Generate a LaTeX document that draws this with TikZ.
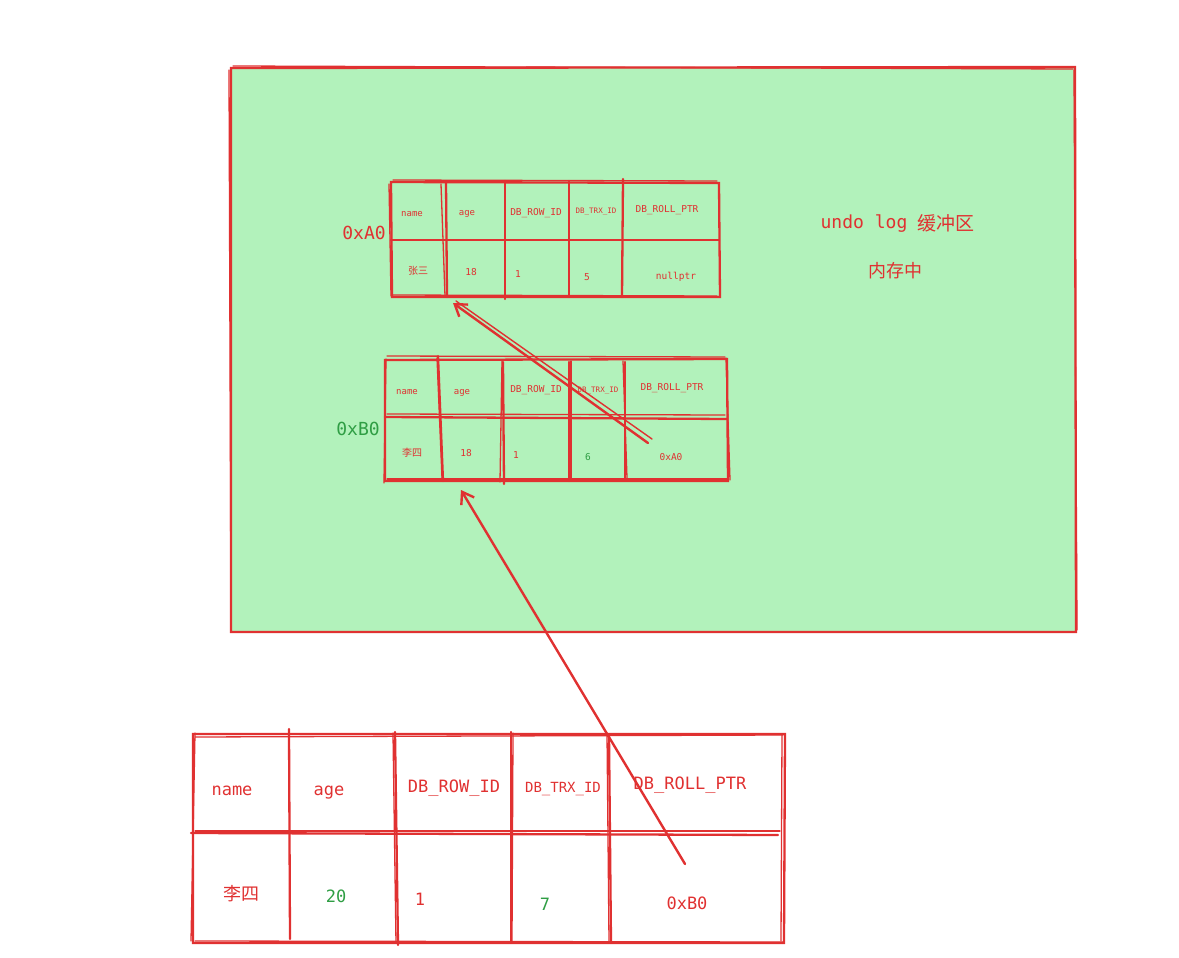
\documentclass[tikz,border=0pt]{standalone}
\usepackage{fontspec}
\setmonofont{DejaVu Sans Mono}
\newfontfamily\cjk{Noto Sans CJK SC}
\usetikzlibrary{arrows.meta}
\definecolor{xred}{HTML}{E03131}
\definecolor{xgreen}{HTML}{2F9E44}
\definecolor{xfill}{HTML}{B2F2BB}
\tikzset{
  x=1pt, y=-1pt,
  sk/.style={draw=xred, line width=2.3pt, line cap=round},
  skthin/.style={draw=xred, line width=1.3pt, line cap=round},
  t/.style={text=xred, font=\ttfamily\fontsize{#1}{#1}\selectfont, inner sep=0pt},
  t/.default=9,
  tg/.style={t=#1, text=xgreen},
  tg/.default=9,
  c/.style={text=xred, font=\cjk\fontsize{#1}{#1}\selectfont, inner sep=0pt},
  c/.default=10,
  arr/.style={draw=xred, line width=2.4pt, line cap=round, -{Straight Barb[length=11pt,width=15pt,line width=2.4pt]}},
}
\begin{document}
\begin{tikzpicture}
\useasboundingbox (0,0) rectangle (1179,958);
% memory area
\path[fill=xfill] (231,67) rectangle (1076,632);
\draw[sk] (231,68) -- (1075,67) -- (1076,632) -- (231,632) -- cycle;
\draw[skthin] (233,66) -- (1073,69);
\draw[skthin] (1074,70) -- (1077,630);
\draw[skthin] (229,70) -- (231,630);
\node[t=18] (ulog) at (864,224) {undo log};
\node[c=19, anchor=west] (ubuf) at (917,223) {缓冲区};
\node[c=18] (mem) at (895,271) {内存中};

% table 0xA0
\draw[sk] (391,182) -- (719,183) -- (720,297) -- (392,297) -- cycle;
\draw[sk] (391,240) -- (719,240);
\draw[sk] (446,182) -- (447,297);
\draw[sk] (505,181) -- (505,299);
\draw[sk] (569,181) -- (569,297);
\draw[sk] (623,179) -- (622,297);
\draw[skthin] (389,184) -- (391,296);
\draw[skthin] (441,184) -- (445,296);
\draw[skthin] (393,180) -- (717,181);
\draw[skthin] (393,295) -- (717,296);
\node[t=18] (lA) at (364,233) {0xA0};
\node[t=9]  (a1) at (412,214) {name};
\node[t=9]  (a2) at (467,214) {age};
\node[t=9.5]  (a3) at (536,213) {DB\_ROW\_ID};
\node[t=7.5]  (a4) at (596,212) {DB\_TRX\_ID};
\node[t=9.5]  (a5) at (667,210) {DB\_ROLL\_PTR};
\node[c=10]  (a6) at (418,271) {张三};
\node[t=9.5]  (a7) at (471,272) {18};
\node[t=9.5]  (a8) at (518,274) {1};
\node[t=9.5]  (a9) at (587,277) {5};
\node[t=9.5]  (a10) at (676,277) {nullptr};
\coordinate (Atip) at (453,303);

% table 0xB0
\draw[sk] (385,360) -- (727,359) -- (728,481) -- (385,481) -- cycle;
\draw[sk] (385,417) -- (727,419);
\draw[sk] (438,356) -- (443,481);
\draw[sk] (503,362) -- (504,484);
\draw[sk] (569,362) -- (569,481);
\draw[sk] (625,362) -- (625,478);
\draw[skthin] (386,359) -- (384,483);
\draw[skthin] (437,358) -- (442,478);
\draw[skthin] (502,361) -- (500,482);
\draw[skthin] (571,361) -- (571,481);
\draw[skthin] (623,361) -- (627,478);
\draw[skthin] (726,358) -- (730,480);
\draw[skthin] (387,356) -- (725,357);
\draw[skthin] (387,414) -- (725,415);
\draw[skthin] (387,479) -- (727,479);
\node[tg=18] (lB) at (358,429) {0xB0};
\node[t=9]  (b1) at (407,392) {name};
\node[t=9]  (b2) at (462,393) {age};
\node[t=9.5]  (b3) at (536,390) {DB\_ROW\_ID};
\node[t=7.5]  (b4) at (598,391) {DB\_TRX\_ID};
\node[t=9.5]  (b5) at (672,388) {DB\_ROLL\_PTR};
\node[c=10]  (b6) at (412,453) {李四};
\node[t=9.5]  (b7) at (466,453) {18};
\node[t=9.5]  (b8) at (516,455) {1};
\node[tg=9.5]  (b9) at (588,457) {6};
\node[t=9.5]  (b10) at (671,457) {0xA0};
\coordinate (Bstart) at (648,443);
\coordinate (Btip) at (461,490);

% bottom table (current row)
\draw[sk] (193,734) -- (785,734) -- (784,943) -- (193,943) -- cycle;
\draw[sk] (191,833) -- (778,835);
\draw[sk] (289,729) -- (290,939);
\draw[sk] (395,732) -- (398,945);
\draw[sk] (511,732) -- (511,943);
\draw[sk] (609,734) -- (611,943);
\draw[skthin] (195,733) -- (191,941);
\draw[skthin] (393,733) -- (396,943);
\draw[skthin] (513,733) -- (512,941);
\draw[skthin] (607,733) -- (609,941);
\draw[skthin] (782,735) -- (781,941);
\draw[skthin] (195,737) -- (783,735);
\draw[skthin] (195,831) -- (780,831);
\draw[skthin] (195,941) -- (783,942);
\node[t=17]  (c1) at (232,791) {name};
\node[t=17]  (c2) at (329,793) {age};
\node[t=17]  (c3) at (454,788) {DB\_ROW\_ID};
\node[t=14]  (c4) at (563,789) {DB\_TRX\_ID};
\node[t=17]  (c5) at (690,785) {DB\_ROLL\_PTR};
\node[c=18]  (c6) at (241,894) {李四};
\node[tg=17]  (c7) at (336,896) {20};
\node[t=17]  (c8) at (420,899) {1};
\node[tg=17]  (c9) at (545,904) {7};
\node[t=17]  (c10) at (687,903) {0xB0};
\coordinate (Cstart) at (685,864);

% pointers
\draw[arr] (Bstart) -- (Atip);
\draw[draw=xred, line width=1.4pt, line cap=round] ([shift={(4,-4)}]Bstart) -- ([shift={(3,-2)}]Atip);
\draw[arr] (Cstart) -- (Btip);
\end{tikzpicture}
\end{document}
